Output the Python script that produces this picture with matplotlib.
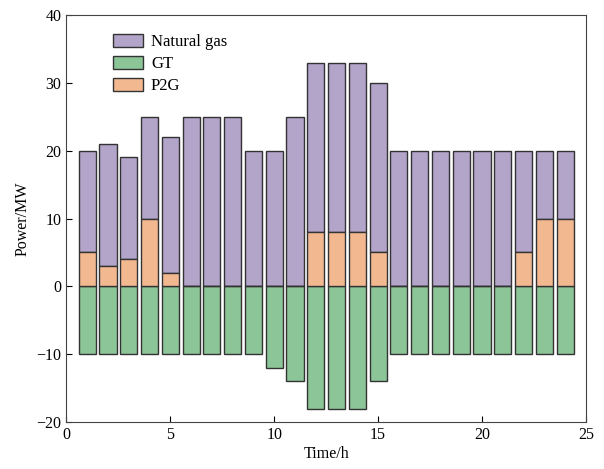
import numpy as np
import matplotlib.pyplot as plt

plt.rcParams['font.family'] = ['Liberation Serif', 'DejaVu Serif']
plt.rcParams['font.size'] = 11

# 时段
hours = np.arange(1, 25)
# 天然气总量（含P2G部分的柱顶高度）
total = [20, 21, 19, 25, 22, 25, 25, 25, 20, 20, 25, 33,
         33, 33, 30, 20, 20, 20, 20, 20, 20, 20, 20, 20]
p2g = [5, 3, 4, 10, 2, 0, 0, 0, 0, 0, 0, 8,
       8, 8, 5, 0, 0, 0, 0, 0, 0, 5, 10, 10]
gt = [-10, -10, -10, -10, -10, -10, -10, -10, -10, -12, -14, -18,
      -18, -18, -14, -10, -10, -10, -10, -10, -10, -10, -10, -10]

gas = np.array(total) - np.array(p2g)

fig, ax = plt.subplots(figsize=(6.04, 4.69), dpi=100)
fig.subplots_adjust(left=0.11, right=0.97, top=0.968, bottom=0.1)

ec = '#333333'
b1 = ax.bar(hours, gas, 0.82, bottom=p2g, color='#b3a4c9', edgecolor=ec, linewidth=1)
b2 = ax.bar(hours, gt, 0.82, color='#8cc597', edgecolor=ec, linewidth=1)
b3 = ax.bar(hours, p2g, 0.82, color='#f2b990', edgecolor=ec, linewidth=1)

ax.set_xlim(0, 25)
ax.set_ylim(-20, 40)
ax.set_xticks([0, 5, 10, 15, 20, 25])
ax.set_yticks([-20, -10, 0, 10, 20, 30, 40])
ax.tick_params(direction='in', top=False, right=False, length=4, labelsize=11.5)
ax.set_yticklabels(['\u221220', '\u221210', '0', '10', '20', '30', '40'])
ax.set_xlabel('Time/h', labelpad=2, fontsize=11.5)
ax.set_ylabel('Power/MW', labelpad=4, fontsize=11.5)
for s in ax.spines.values():
    s.set_color('#444444')

ax.legend([b1, b2, b3], ['Natural gas', 'GT', 'P2G'], loc='upper left',
          bbox_to_anchor=(0.06, 0.99), frameon=False, fontsize=12,
          handlelength=1.8, handleheight=0.85, labelspacing=0.32, handletextpad=0.5)

plt.savefig('out.png')
